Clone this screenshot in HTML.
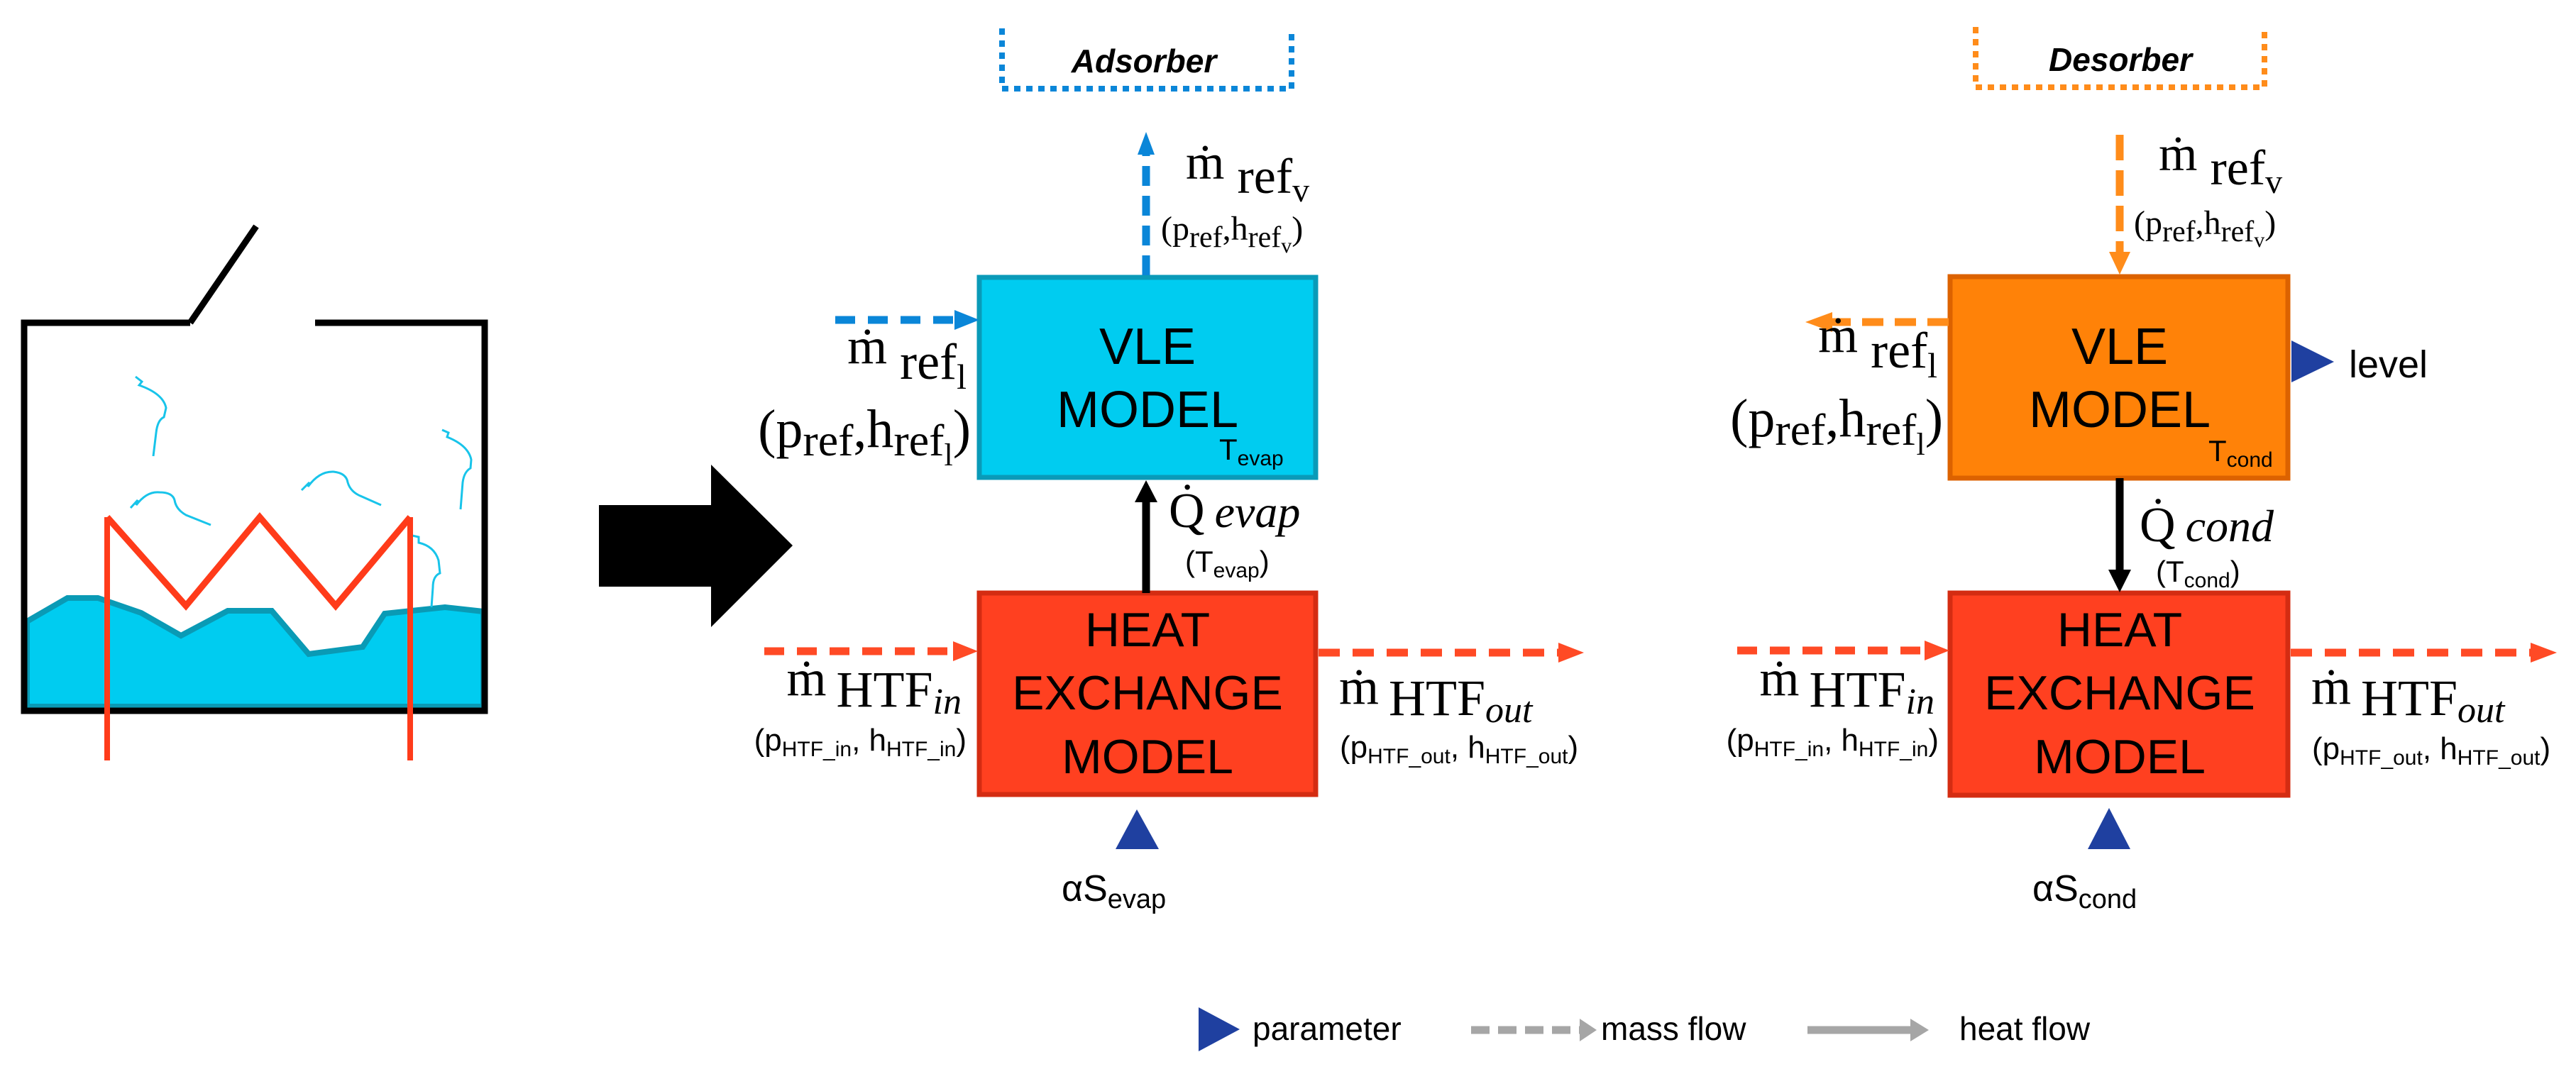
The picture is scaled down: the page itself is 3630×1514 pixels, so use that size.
<!DOCTYPE html>
<html><head><meta charset="utf-8"><style>
html,body{margin:0;padding:0;background:#fff;}
svg{display:block;}
.ser{font-family:"Liberation Serif","DejaVu Serif",serif;}
.san{font-family:"Liberation Sans","DejaVu Sans",sans-serif;}
</style></head><body>
<svg width="3630" height="1514" viewBox="0 0 3630 1514" xmlns="http://www.w3.org/2000/svg">
<rect width="3630" height="1514" fill="#fff"/>

<!-- Tank -->
<polygon points="38,876 95,843 138,843 199,864 255,896 321,861 383,861 435,922 511,912 542,865 627,856 681,862 681,996 38,996" fill="#00ccf0" stroke="#0a9ab5" stroke-width="8"/>
<polyline points="268,455 34,455 34,1002 683,1002 683,455 444,455" fill="none" stroke="#000" stroke-width="9"/>
<line x1="268" y1="455" x2="361" y2="319" stroke="#000" stroke-width="9"/>
<g fill="none" stroke="#18c4ea" stroke-width="3">
<path d="M191 531 L200 538 L196 543 Q230 555 234 575 L231 588 Q222 592 220 610 L216 643"/>
<path d="M184 716 L194 705 L192 712 Q207 692 225 694 Q243 694 246 705 Q248 718 262 726 L297 740"/>
<path d="M425 691 L436 680 L434 686 Q450 664 470 665 Q488 667 490 680 Q494 694 510 700 L537 712"/>
<path d="M623 606 L632 610 L630 616 Q660 628 664 648 L663 660 Q654 665 652 680 L649 718"/>
<path d="M581 755 L590 757 L590 765 Q612 770 618 790 L620 808 Q610 812 610 828 L608 856"/>
</g>
<line x1="151" y1="729" x2="151" y2="1072" stroke="#ff3b1a" stroke-width="8"/>
<line x1="578" y1="729" x2="578" y2="1072" stroke="#ff3b1a" stroke-width="8"/>
<polyline points="151,729 262,854 366,729 473,854 578,729" fill="none" stroke="#ff3b1a" stroke-width="9"/>

<!-- Big arrow -->
<polygon points="844,712 1002,712 1002,655 1117,769 1002,884 1002,827 844,827" fill="#000"/>

<!-- ===== Adsorber side ===== -->
<path d="M1412 40 L1412 125 L1820 125 L1820 40" fill="none" stroke="#0a86d8" stroke-width="8" stroke-dasharray="9,8"/>
<text x="1612" y="102" text-anchor="middle" class="san" font-size="46" font-weight="bold" font-style="italic">Adsorber</text>

<rect x="1380" y="391" width="474" height="282" fill="#00ccf0" stroke="#0a9ab8" stroke-width="7"/>
<rect x="1380" y="836" width="474" height="284" fill="#ff4020" stroke="#d42c12" stroke-width="7"/>

<line x1="1615" y1="388" x2="1615" y2="215" stroke="#0a86d8" stroke-width="11" stroke-dasharray="28,14"/>
<polygon points="1603,218 1627,218 1615,186" fill="#0a86d8"/>
<line x1="1177" y1="451" x2="1350" y2="451" stroke="#0a86d8" stroke-width="11" stroke-dasharray="28,18"/>
<polygon points="1345,437 1345,465 1380,451" fill="#0a86d8"/>
<line x1="1615" y1="836" x2="1615" y2="705" stroke="#000" stroke-width="11"/>
<polygon points="1599,708 1631,708 1615,677" fill="#000"/>
<line x1="1077" y1="918" x2="1348" y2="918" stroke="#ff4a25" stroke-width="11" stroke-dasharray="28,18"/>
<polygon points="1343,904 1343,932 1378,918" fill="#ff4a25"/>
<line x1="1858" y1="920" x2="2200" y2="920" stroke="#ff4a25" stroke-width="11" stroke-dasharray="30,18"/>
<polygon points="2196,906 2196,934 2232,920" fill="#ff4a25"/>
<polygon points="1572,1197 1633,1197 1602,1141" fill="#1f40a0"/>

<!-- ===== Desorber side ===== -->
<path d="M2784 38 L2784 123 L3191 123 L3191 38" fill="none" stroke="#ff8c1a" stroke-width="8" stroke-dasharray="9,8"/>
<text x="2988" y="100" text-anchor="middle" class="san" font-size="46" font-weight="bold" font-style="italic">Desorber</text>

<rect x="2748" y="390" width="476" height="284" fill="#ff8208" stroke="#dc6200" stroke-width="7"/>
<rect x="2748" y="836" width="476" height="285" fill="#ff4020" stroke="#d42c12" stroke-width="7"/>

<line x1="2987" y1="190" x2="2987" y2="360" stroke="#ff8c1a" stroke-width="11" stroke-dasharray="36,14"/>
<polygon points="2972,355 3002,355 2987,387" fill="#ff8c1a"/>
<line x1="2746" y1="454" x2="2578" y2="454" stroke="#ff8c1a" stroke-width="11" stroke-dasharray="30,16"/>
<polygon points="2582,440 2582,468 2544,454" fill="#ff8c1a"/>
<line x1="2987" y1="674" x2="2987" y2="806" stroke="#000" stroke-width="11"/>
<polygon points="2971,803 3003,803 2987,835" fill="#000"/>
<line x1="2448" y1="917" x2="2716" y2="917" stroke="#ff4a25" stroke-width="11" stroke-dasharray="28,18"/>
<polygon points="2712,903 2712,931 2747,917" fill="#ff4a25"/>
<line x1="3228" y1="920" x2="3570" y2="920" stroke="#ff4a25" stroke-width="11" stroke-dasharray="30,18"/>
<polygon points="3566,906 3566,934 3603,920" fill="#ff4a25"/>
<polygon points="2942,1197 3002,1197 2972,1139" fill="#1f40a0"/>
<polygon points="3229,480 3229,539 3289,510" fill="#1f40a0"/>
<text x="3310" y="532" class="san" font-size="54">level</text>

<!-- box texts -->
<g class="san" font-size="72" text-anchor="middle">
<text x="1617" y="513">VLE</text>
<text x="1617" y="602">MODEL</text>
<text x="2987" y="513">VLE</text>
<text x="2987" y="602">MODEL</text>
</g>
<g class="san" font-size="68" text-anchor="middle">
<text x="1617" y="911">HEAT</text>
<text x="1617" y="1000">EXCHANGE</text>
<text x="1617" y="1090">MODEL</text>
<text x="2987" y="911">HEAT</text>
<text x="2987" y="1000">EXCHANGE</text>
<text x="2987" y="1090">MODEL</text>
</g>
<text x="1718" y="648" class="san" font-size="42">T<tspan font-size="30" dy="8">evap</tspan></text>
<text x="3112" y="650" class="san" font-size="42">T<tspan font-size="30" dy="8">cond</tspan></text>

<!-- labels adsorber -->
<text x="1671" y="252" class="ser" font-size="70">ṁ<tspan dx="18" dy="20">ref</tspan><tspan font-size="48" dy="12">v</tspan></text>
<text x="1636" y="338" class="ser" font-size="48">(p<tspan font-size="42" dy="10">ref</tspan><tspan dy="-10">,h</tspan><tspan font-size="42" dy="10">ref</tspan><tspan font-size="30" dy="8">v</tspan><tspan dy="-18">)</tspan></text>
<text x="1362" y="512" class="ser" font-size="72" text-anchor="end">ṁ<tspan dx="18" dy="22">ref</tspan><tspan font-size="50" dy="14">l</tspan></text>
<text x="1368" y="630" class="ser" font-size="76" text-anchor="end">(p<tspan font-size="64" dy="12">ref</tspan><tspan dy="-12">,h</tspan><tspan font-size="64" dy="12">ref</tspan><tspan font-size="44" dy="14">l</tspan><tspan dy="-26">)</tspan></text>
<text x="1647" y="743" class="ser" font-size="70">Q̇<tspan dx="14" font-style="italic" font-size="64">evap</tspan></text>
<text x="1670" y="806" class="san" font-size="42">(T<tspan font-size="30" dy="8">evap</tspan><tspan dy="-8">)</tspan></text>
<text x="1355" y="980" class="ser" font-size="72" text-anchor="end">ṁ<tspan dx="14" dy="16">HTF</tspan><tspan font-size="52" font-style="italic" dy="10">in</tspan></text>
<text x="1362" y="1058" class="san" font-size="44" text-anchor="end">(p<tspan font-size="30" dy="8">HTF_in</tspan><tspan dy="-8">, h</tspan><tspan font-size="30" dy="8">HTF_in</tspan><tspan dy="-8">)</tspan></text>
<text x="1887" y="992" class="ser" font-size="72">ṁ<tspan dx="14" dy="16">HTF</tspan><tspan font-size="52" font-style="italic" dy="10">out</tspan></text>
<text x="1888" y="1068" class="san" font-size="44">(p<tspan font-size="30" dy="8">HTF_out</tspan><tspan dy="-8">, h</tspan><tspan font-size="30" dy="8">HTF_out</tspan><tspan dy="-8">)</tspan></text>
<text x="1496" y="1270" class="san" font-size="52">αS<tspan font-size="38" dy="10">evap</tspan></text>

<!-- labels desorber -->
<text x="3042" y="240" class="ser" font-size="70">ṁ<tspan dx="18" dy="20">ref</tspan><tspan font-size="48" dy="12">v</tspan></text>
<text x="3007" y="330" class="ser" font-size="48">(p<tspan font-size="42" dy="10">ref</tspan><tspan dy="-10">,h</tspan><tspan font-size="42" dy="10">ref</tspan><tspan font-size="30" dy="8">v</tspan><tspan dy="-18">)</tspan></text>
<text x="2730" y="496" class="ser" font-size="72" text-anchor="end">ṁ<tspan dx="18" dy="22">ref</tspan><tspan font-size="50" dy="14">l</tspan></text>
<text x="2738" y="615" class="ser" font-size="76" text-anchor="end">(p<tspan font-size="64" dy="12">ref</tspan><tspan dy="-12">,h</tspan><tspan font-size="64" dy="12">ref</tspan><tspan font-size="44" dy="14">l</tspan><tspan dy="-26">)</tspan></text>
<text x="3015" y="763" class="ser" font-size="70">Q̇<tspan dx="14" font-style="italic" font-size="64">cond</tspan></text>
<text x="3038" y="820" class="san" font-size="42">(T<tspan font-size="30" dy="8">cond</tspan><tspan dy="-8">)</tspan></text>
<text x="2726" y="980" class="ser" font-size="72" text-anchor="end">ṁ<tspan dx="14" dy="16">HTF</tspan><tspan font-size="52" font-style="italic" dy="10">in</tspan></text>
<text x="2732" y="1058" class="san" font-size="44" text-anchor="end">(p<tspan font-size="30" dy="8">HTF_in</tspan><tspan dy="-8">, h</tspan><tspan font-size="30" dy="8">HTF_in</tspan><tspan dy="-8">)</tspan></text>
<text x="3257" y="992" class="ser" font-size="72">ṁ<tspan dx="14" dy="16">HTF</tspan><tspan font-size="52" font-style="italic" dy="10">out</tspan></text>
<text x="3258" y="1070" class="san" font-size="44">(p<tspan font-size="30" dy="8">HTF_out</tspan><tspan dy="-8">, h</tspan><tspan font-size="30" dy="8">HTF_out</tspan><tspan dy="-8">)</tspan></text>
<text x="2864" y="1270" class="san" font-size="52">αS<tspan font-size="38" dy="10">cond</tspan></text>

<!-- Legend -->
<polygon points="1689,1420 1689,1482 1747,1451" fill="#1f40a0"/>
<text x="1765" y="1466" class="san" font-size="46">parameter</text>
<line x1="2073" y1="1452" x2="2228" y2="1452" stroke="#a6a6a6" stroke-width="11" stroke-dasharray="26,12"/>
<polygon points="2226,1436 2226,1468 2250,1452" fill="#a6a6a6"/>
<text x="2256" y="1466" class="san" font-size="46">mass flow</text>
<line x1="2547" y1="1452" x2="2695" y2="1452" stroke="#a6a6a6" stroke-width="11"/>
<polygon points="2692,1436 2692,1468 2718,1452" fill="#a6a6a6"/>
<text x="2761" y="1466" class="san" font-size="46">heat flow</text>
</svg>
</body></html>
